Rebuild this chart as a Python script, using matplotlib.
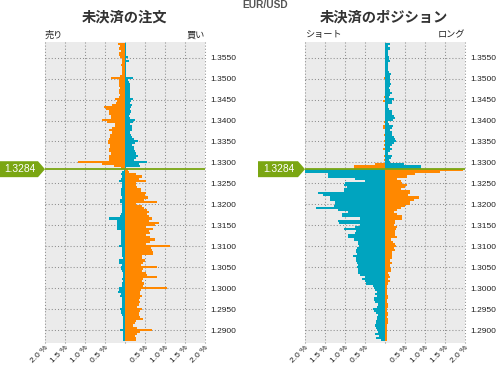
import numpy as np
import matplotlib
matplotlib.use('Agg')
import matplotlib.pyplot as plt
from matplotlib.patches import Polygon
from matplotlib.transforms import blended_transform_factory

# ---------------- data ----------------
pair = "EUR/USD"
current_price = 1.3284
# price buckets, top to bottom (0.0005 steps)
levels = np.round(np.arange(1.3580, 1.28745, -0.0005), 4)

# open orders (%) - upper part (above price) then lower part (below price)
orders_orange = [
    0.18, 0.13, 0.15, 0.10, 0.14, 0.16, 0.13, 0.08, 0.08, 0.07,
    0.10, 0.08, 0.07, 0.08, 0.08, 0.13, 0.35, 0.16, 0.14, 0.14,
    0.15, 0.13, 0.14, 0.15, 0.13, 0.16, 0.25, 0.20, 0.23, 0.33,
    0.53, 0.48, 0.40, 0.39, 0.35, 0.35, 0.58, 0.46, 0.25, 0.25,
    0.33, 0.40, 0.33, 0.37, 0.38, 0.40, 0.42, 0.42, 0.38, 0.38,
    0.40, 0.40, 0.35, 0.40, 0.40, 0.40, 1.18, 0.58, 0.28, 0.09,
    0.08, 0.11, 0.28, 0.43, 0.34, 0.53, 0.28, 0.28, 0.29, 0.39,
    0.41, 0.53, 0.51, 0.58, 0.48, 0.79, 0.28, 0.43, 0.48, 0.56,
    0.59, 0.56, 0.61, 0.67, 0.59, 0.84, 0.76, 0.53, 0.71, 0.61,
    0.63, 0.53, 0.63, 0.76, 0.63, 0.53, 1.13, 0.64, 0.68, 0.71,
    0.69, 0.43, 0.43, 0.51, 0.46, 0.39, 0.79, 0.44, 0.43, 0.53,
    0.56, 0.79, 0.46, 0.43, 0.48, 0.46, 1.04, 0.41, 0.38, 0.38,
    0.43, 0.38, 0.36, 0.38, 0.34, 0.29, 0.43, 0.38, 0.34, 0.36, 0.38, 0.46,
    0.28, 0.25, 0.20, 0.30, 0.68, 0.38, 0.30, 0.25, 0.28, 0.28,
]
orders_blue = [
    0.03, 0.03, 0.03, 0.03, 0.03, 0.03, 0.07, 0.03, 0.10, 0.03,
    0.03, 0.03, 0.03, 0.03, 0.03, 0.03, 0.19, 0.08, 0.10, 0.12,
    0.12, 0.12, 0.12, 0.13, 0.13, 0.12, 0.19, 0.16, 0.13, 0.17,
    0.15, 0.13, 0.15, 0.12, 0.10, 0.12, 0.25, 0.20, 0.13, 0.18,
    0.17, 0.17, 0.13, 0.16, 0.17, 0.22, 0.32, 0.25, 0.17, 0.22,
    0.23, 0.25, 0.28, 0.33, 0.28, 0.23, 0.54, 0.34, 0.38, 0.03,
    0.03, 0.08, 0.09, 0.08, 0.09, 0.14, 0.08, 0.08, 0.08, 0.09,
    0.11, 0.11, 0.09, 0.08, 0.13, 0.13, 0.08, 0.08, 0.08, 0.08,
    0.08, 0.11, 0.13, 0.40, 0.19, 0.19, 0.19, 0.19, 0.19, 0.11,
    0.09, 0.09, 0.09, 0.09, 0.09, 0.09, 0.14, 0.08, 0.08, 0.08,
    0.08, 0.08, 0.04, 0.14, 0.14, 0.08, 0.09, 0.09, 0.08, 0.06,
    0.06, 0.06, 0.08, 0.06, 0.08, 0.08, 0.16, 0.16, 0.18, 0.11,
    0.13, 0.08, 0.08, 0.08, 0.08, 0.08, 0.13, 0.11, 0.09, 0.08, 0.06, 0.06,
    0.06, 0.06, 0.06, 0.06, 0.13, 0.06, 0.06, 0.06, 0.06, 0.06,
]

# open positions (%)
pos_blue = [
    0.12, 0.08, 0.13, 0.08, 0.08, 0.08, 0.11, 0.10, 0.13, 0.08,
    0.07, 0.08, 0.07, 0.10, 0.15, 0.13, 0.12, 0.13, 0.13, 0.15,
    0.12, 0.10, 0.13, 0.18, 0.12, 0.10, 0.22, 0.18, 0.17, 0.08,
    0.07, 0.10, 0.17, 0.18, 0.22, 0.25, 0.20, 0.07, 0.10, 0.20,
    0.17, 0.13, 0.18, 0.17, 0.22, 0.25, 0.27, 0.22, 0.18, 0.12,
    0.17, 0.13, 0.08, 0.17, 0.15, 0.10, 0.13, 0.48, 0.90, 0.90,
    2.00, 2.00, 1.43, 1.43, 0.75, 0.50, 1.00, 1.03, 0.95, 1.03,
    1.03, 1.68, 1.55, 1.38, 1.38, 1.25, 1.25, 1.28, 1.73, 1.18,
    0.93, 1.08, 1.08, 0.63, 1.18, 1.15, 0.63, 0.75, 1.03, 0.73,
    0.75, 0.93, 0.93, 0.78, 0.68, 0.68, 0.65, 0.70, 0.73, 0.73,
    0.70, 0.80, 0.73, 0.73, 0.70, 0.68, 0.70, 0.68, 0.68, 0.68,
    0.63, 0.50, 0.58, 0.50, 0.48, 0.30, 0.28, 0.25, 0.20, 0.25,
    0.20, 0.28, 0.28, 0.25, 0.18, 0.20, 0.30, 0.28, 0.23, 0.18,
    0.20, 0.20, 0.23, 0.23, 0.25, 0.23, 0.20, 0.18, 0.25, 0.15,
    0.23, 0.10,
]
pos_orange = [
    0, 0, 0, 0, 0, 0, 0, 0, 0, 0,
    0, 0, 0, 0, 0, 0, 0.03, 0, 0, 0,
    0, 0, 0, 0, 0, 0.03, 0, 0.06, 0, 0,
    0, 0, 0, 0, 0, 0, 0, 0.03, 0, 0.04,
    0.05, 0, 0, 0.02, 0, 0, 0.03, 0, 0.03, 0,
    0.05, 0, 0, 0.03, 0, 0.02, 0, 0.25, 0.78, 0.78,
    1.95, 1.38, 0.75, 0.55, 0.30, 0.40, 0.43, 0.55, 0.50, 0.40,
    0.63, 0.63, 0.58, 0.85, 0.73, 0.63, 0.63, 0.50, 0.40, 0.30,
    0.23, 0.30, 0.43, 0.43, 0.25, 0.25, 0.23, 0.30, 0.28, 0.25,
    0.25, 0.25, 0.30, 0.15, 0.20, 0.25, 0.28, 0.23, 0.25, 0.18,
    0.18, 0.18, 0.18, 0.13, 0.18, 0.13, 0.13, 0.15, 0.15, 0.08,
    0.10, 0.13, 0.08, 0.13, 0.08, 0.05, 0.05, 0.05, 0.05, 0.05,
    0.08, 0.08, 0.05, 0.05, 0.08, 0.08, 0.05, 0.05, 0.08, 0.08,
    0.05, 0.08, 0.08, 0.08, 0.05, 0.05, 0.05, 0.05, 0.05, 0.05,
    0.05, 0.05,
]

price_ticks = [1.2900, 1.2950, 1.3000, 1.3050, 1.3100, 1.3150, 1.3200,
               1.3250, 1.3300, 1.3350, 1.3400, 1.3450, 1.3500, 1.3550]
pct_ticks = [-2.0, -1.5, -1.0, -0.5, 0.0, 0.5, 1.0, 1.5, 2.0]
pct_labels = ['2.0 %', '1.5 %', '1.0 %', '0.5 %', '', '0.5 %', '1.0 %', '1.5 %', '2.0 %']

titles = ['未決済の注文', '未決済のポジション']
side_labels = [('売り', '買い'), ('ショート', 'ロング')]

# ---------------- style ----------------
ORANGE = '#ff8800'
BLUE = '#00a4bf'
GREEN = '#7aa612'
BG = '#ebebeb'
JP = ['Noto Sans CJK JP', 'DejaVu Sans']
NUM = ['Liberation Sans', 'DejaVu Sans']

W, H = 497, 365
fig = plt.figure(figsize=(W / 100, H / 100), dpi=100)
fig.patch.set_facecolor('white')


def rect(x0, x1, y0, y1):
    return [x0 / W, 1 - y1 / H, (x1 - x0) / W, (y1 - y0) / H]


axL = fig.add_axes(rect(45, 205, 42, 343))
axR = fig.add_axes(rect(305, 465, 42, 343))

above = levels > current_price
sgn_orange = np.where(above, -1.0, 1.0)
sgn_blue = np.where(above, 1.0, -1.0)

panels = [(axL, orders_orange, orders_blue), (axR, pos_orange, pos_blue)]
for i, (ax, orange, blue) in enumerate(panels):
    ax.set_facecolor(BG)
    ypos = levels + 0.00015
    ax.barh(ypos, sgn_orange * np.array(orange), height=0.0005,
            color=ORANGE, linewidth=0, zorder=2)
    ax.barh(ypos, sgn_blue * np.array(blue), height=0.0005,
            color=BLUE, linewidth=0, zorder=2)
    ax.set_xlim(-2.0, 2.0)
    ax.set_ylim(1.28698, 1.35871)
    ax.set_xticks(pct_ticks)
    ax.set_xticklabels(pct_labels, rotation=45, ha='right', va='top',
                       rotation_mode='anchor', family=NUM, fontsize=6.0,
                       color='#222222')
    ax.set_yticks(price_ticks)
    ax.set_yticklabels([f'{v:.4f}' for v in price_ticks], family=NUM,
                       fontsize=6.0, color='#222222')
    ax.yaxis.tick_right()
    ax.tick_params(axis='both', length=0)
    ax.tick_params(axis='y', pad=4)
    ax.tick_params(axis='x', pad=1.0)
    for s in ax.spines.values():
        s.set_visible(False)
    ax.set_axisbelow(True)
    ax.grid(True, color='#8f8f8f', linestyle=(0, (1, 2)), linewidth=0.75)
    for gl in ax.get_xgridlines():
        gl.set_clip_on(False)
    ax.axhline(current_price, color=GREEN, linewidth=1.3, zorder=3)

# titles and side labels
fig.text(124 / W, 1 - 17.5 / H, titles[0], ha='center', va='center',
         family=JP, fontsize=10.3, fontweight='bold', color='#333333')
fig.text(384 / W, 1 - 17.5 / H, titles[1], ha='center', va='center',
         family=JP, fontsize=10.3, fontweight='bold', color='#333333')
fig.text(265 / W, 1 - 4.5 / H, pair, ha='center', va='center',
         family=NUM, fontsize=7.3, fontweight='bold', color='#555555')
fig.text(45 / W, 1 - 35 / H, side_labels[0][0], ha='left', va='center',
         family=JP, fontsize=6.6, color='#222222')
fig.text(205 / W, 1 - 35 / H, side_labels[0][1], ha='right', va='center',
         family=JP, fontsize=6.6, color='#222222')
fig.text(305 / W, 1 - 35 / H, side_labels[1][0], ha='left', va='center',
         family=JP, fontsize=6.6, color='#222222')
fig.text(465 / W, 1 - 35 / H, side_labels[1][1], ha='right', va='center',
         family=JP, fontsize=6.6, color='#222222')

# current price tags
half = 0.0019
for ax, x0, x1, x2 in ((axL, 0, 38, 45), (axR, 258, 298, 305)):
    tr = blended_transform_factory(fig.transFigure, ax.transData)
    poly = Polygon([(x0 / W, current_price + half), (x1 / W, current_price + half),
                    (x2 / W, current_price), (x1 / W, current_price - half),
                    (x0 / W, current_price - half)], closed=True,
                   facecolor=GREEN, edgecolor='none', transform=tr, zorder=5)
    fig.add_artist(poly)
    fig.text((x0 + (x1 - x0) / 2 + 0.5) / W, current_price, f'{current_price:.4f}',
             transform=tr, ha='center', va='center', family=NUM,
             fontsize=7.4, color='white', zorder=6)

fig.savefig('out.png', dpi=100)
